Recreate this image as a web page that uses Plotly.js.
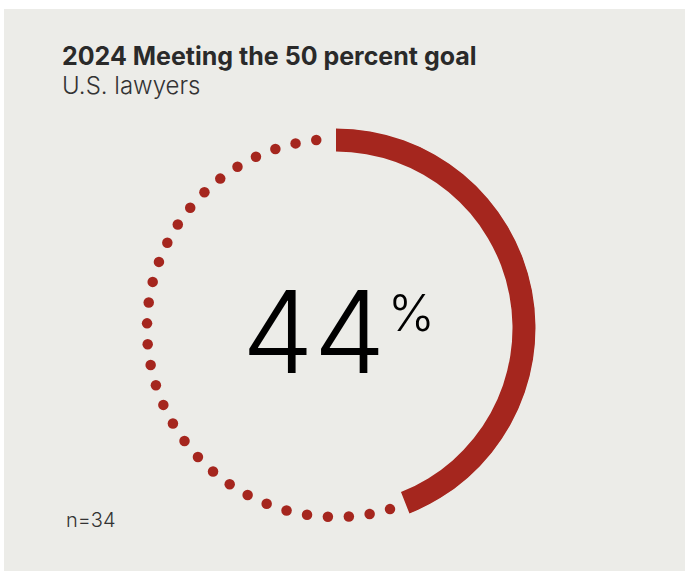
<!DOCTYPE html>
<html>
<head>
<meta charset="utf-8">
<script src="https://cdn.plot.ly/plotly-3.0.1.min.js"></script>
<style>
  html, body { margin: 0; padding: 0; background: #ffffff; }
  #chart { width: 686px; height: 571px; }
</style>
</head>
<body>
<div id="chart"></div>
<script>
// ---- data ----
const chartTitle = '2024 Meeting the 50 percent goal';
const chartSubtitle = 'U.S. lawyers';
const categories = ['Meeting the 50 percent goal', 'Not meeting the goal'];
const shares = [44, 56];          // percent of U.S. lawyers
const sampleSize = 34;            // n
const dotCount = 31;              // dots drawn along the remaining share

// ---- styling ----
const RED = '#A5261E';
const PANEL = '#ECECE8';
const W = 686, H = 571;
const cx = 336, cy = 328, R = 200;   // polar center / outer radius in px
const px = v => v / W;
const py = v => 1 - v / H;

// geometry derived from the data through the polar axis
const arcDeg = shares[0] / 100 * 360;
const gapStart = 5, gapEnd = 6;
const dotStart = arcDeg + gapStart, dotEnd = 360 - gapEnd;
const dotTheta = [];
for (let i = 0; i < dotCount; i++) dotTheta.push(dotStart + (dotEnd - dotStart) * i / (dotCount - 1));

const traces = [
  {
    type: 'scatterpolar',
    mode: 'markers',
    name: categories[1],
    theta: dotTheta,
    r: dotTheta.map(() => 189),
    marker: { color: RED, size: 10.5, line: { width: 0 } },
    hoverinfo: 'skip'
  },
  {
    type: 'barpolar',
    name: categories[0],
    theta: [arcDeg / 2],
    width: [arcDeg],
    base: [176.5],
    r: [23],
    marker: { color: RED, line: { width: 0 } },
    hoverinfo: 'skip'
  }
];

const FONT = 'Inter, "Open Sans", sans-serif';

const layout = {
  width: W, height: H,
  margin: { l: 0, r: 0, t: 0, b: 0 },
  paper_bgcolor: '#ffffff',
  showlegend: false,
  polar: {
    domain: { x: [px(cx - R), px(cx + R)], y: [1 - (cy + R) / H, 1 - (cy - R) / H] },
    bgcolor: 'rgba(0,0,0,0)',
    hole: 0,
    radialaxis: { visible: false, range: [0, R] },
    angularaxis: { visible: false, direction: 'clockwise', rotation: 90, thetaunit: 'degrees' },
    barmode: 'overlay'
  },
  shapes: [
    { type: 'rect', xref: 'paper', yref: 'paper', layer: 'below',
      x0: px(4), x1: px(685), y0: py(571), y1: py(9),
      fillcolor: PANEL, line: { width: 0 } }
  ],
  annotations: [
    { text: chartTitle, xref: 'paper', yref: 'paper', x: px(60), y: py(56),
      xanchor: 'left', yanchor: 'middle', showarrow: false,
      font: { family: FONT, size: 25, weight: 700, color: '#2a2a2a' } },
    { text: chartSubtitle, xref: 'paper', yref: 'paper', x: px(60), y: py(86),
      xanchor: 'left', yanchor: 'middle', showarrow: false,
      font: { family: FONT, size: 24, weight: 300, color: '#333333' } },
    { text: String(shares[0]), xref: 'paper', yref: 'paper', x: px(313), y: py(331),
      xanchor: 'center', yanchor: 'middle', showarrow: false,
      font: { family: FONT, size: 114, weight: 300, color: '#000000' } },
    { text: '%', xref: 'paper', yref: 'paper', x: px(411), y: py(313),
      xanchor: 'center', yanchor: 'middle', showarrow: false,
      font: { family: FONT, size: 50, weight: 300, color: '#000000' } },
    { text: 'n=' + sampleSize, xref: 'paper', yref: 'paper', x: px(64), y: py(520),
      xanchor: 'left', yanchor: 'middle', showarrow: false,
      font: { family: FONT, size: 20, weight: 300, color: '#333333' } }
  ]
};

Plotly.newPlot('chart', traces, layout, { staticPlot: true, displayModeBar: false });
</script>
</body>
</html>
